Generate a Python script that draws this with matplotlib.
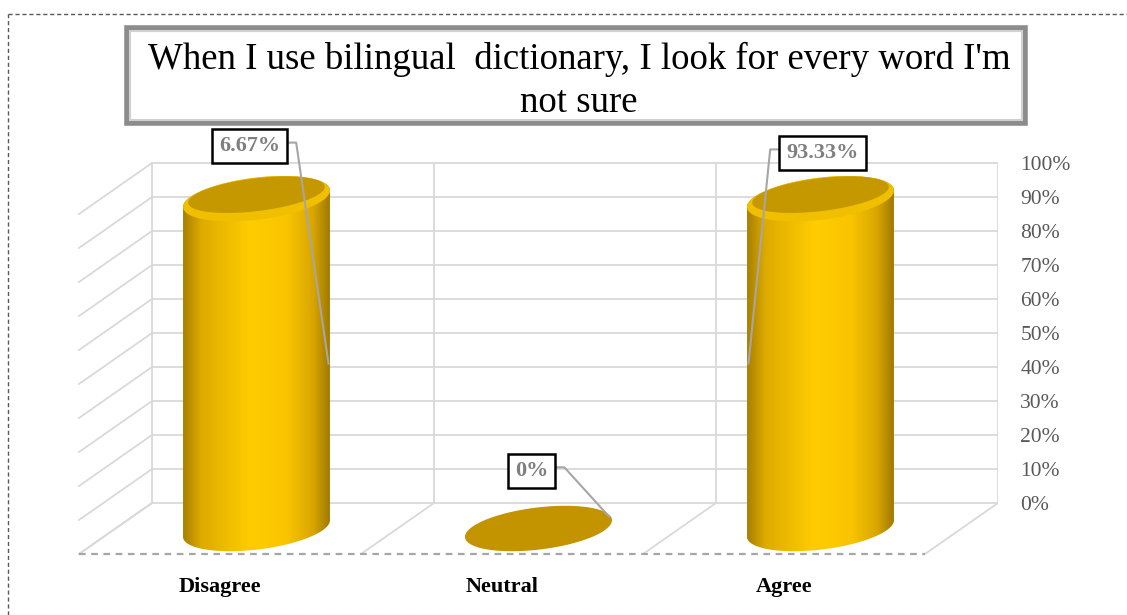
import numpy as np
import matplotlib
matplotlib.use('Agg')
import matplotlib.pyplot as plt
from matplotlib.patches import Polygon, Rectangle
from matplotlib.colors import LinearSegmentedColormap
from matplotlib.lines import Line2D

# data
categories = ["Disagree", "Neutral", "Agree"]
bar_heights = [97, 0, 97]          # drawn height of each cylinder (%)
value_labels = ["6.67%", "0%", "93.33%"]
ticks = list(range(0, 101, 10))
title = "When I use bilingual  dictionary, I look for every word I'm\nnot sure"

plt.rcParams['font.family'] = ['Liberation Serif', 'DejaVu Serif']

W, H = 1127, 615
fig = plt.figure(figsize=(W / 100, H / 100), dpi=100)

# pixels per data unit (category units / percent)
SX, SY = 282.0, 3.4
x0, x1 = -0.45, 3.0
y0, y1 = -30, 140
left_px = 152 + x0 * SX
right_px = 152 + x1 * SX
bot_px = 503 - y0 * SY
top_px = 503 - y1 * SY
ax = fig.add_axes([left_px / W, (H - bot_px) / H, (right_px - left_px) / W, (bot_px - top_px) / H])
ax.set_xlim(x0, x1)
ax.set_ylim(y0, y1)
for s in ax.spines.values():
    s.set_visible(False)
ax.set_xticks([])

# depth offset (front minus back)
DX, DY = -73 / SX, -51 / SY
grid_c = '#D9D9D9'
n = len(categories)

# back wall grid
for t in ticks:
    ax.plot([0, n], [t, t], color=grid_c, lw=1.3, zorder=1)
    ax.plot([0, DX], [t, t + DY], color=grid_c, lw=1.3, zorder=1)
for k in range(n + 1):
    ax.plot([k, k], [0, 100], color=grid_c, lw=1.3, zorder=1)
    ax.plot([k, k + DX], [0, DY], color=grid_c, lw=1.3, zorder=1)
ax.plot([DX, n + DX], [DY, DY], color='#A6A6A6', lw=1.6, ls=(0, (3, 2.5)), zorder=1)

ax.yaxis.tick_right()
ax.set_yticks(ticks)
ax.set_yticklabels([f"{t}%" for t in ticks], fontsize=15.5, color='#595959')
ax.tick_params(axis='y', length=0, pad=16)

# cylinders
A_PX, B_PX, ANG = 74, 21, np.deg2rad(7)


def ell(cx, cy, a, b, t):
    ex, ey = a * np.cos(t), b * np.sin(t)
    rx = ex * np.cos(ANG) - ey * np.sin(ANG)
    ry = ex * np.sin(ANG) + ey * np.cos(ANG)
    return cx + rx / SX, cy + ry / SY


cmap = LinearSegmentedColormap.from_list('gold', [
    (0.0, '#A87F00'), (0.12, '#DDAA00'), (0.45, '#FFCC00'),
    (0.7, '#FAC500'), (0.88, '#D9A600'), (1.0, '#9C7700')])
grad = np.linspace(0, 1, 256).reshape(1, -1)

centers = []
for i, v in enumerate(bar_heights):
    cx = i + 0.5 + DX / 2
    cb = DY / 2
    ct = v + DY / 2
    centers.append((cx, cb, ct))
    if v <= 0:
        ex, ey = ell(cx, cb, A_PX, B_PX, np.linspace(0, 2 * np.pi, 200))
        ax.fill(ex, ey, color='#C39300', zorder=3, lw=0)
        continue
    bx, by = ell(cx, cb, A_PX, B_PX, np.linspace(np.pi, 2 * np.pi, 100))
    tx, ty = ell(cx, ct, A_PX, B_PX, np.linspace(0, np.pi, 100))
    body = Polygon(np.column_stack([np.r_[bx, tx], np.r_[by, ty]]), closed=True,
                   facecolor='none', edgecolor='none', transform=ax.transData)
    ax.add_patch(body)
    im = ax.imshow(grad, extent=[cx - A_PX / SX, cx + A_PX / SX, cb - 10, ct + 10],
                   aspect='auto', cmap=cmap, zorder=3, interpolation='bilinear')
    im.set_clip_path(body)
    ex, ey = ell(cx, ct, A_PX, B_PX, np.linspace(0, 2 * np.pi, 200))
    ax.fill(ex, ey, color='#F0BF00', zorder=4, lw=0)
    ex, ey = ell(cx, ct + 4 / SY, A_PX * 0.93, B_PX * 0.78, np.linspace(0, 2 * np.pi, 200))
    ax.fill(ex, ey, color='#C59800', zorder=4, lw=0)

ax.set_xlim(x0, x1)
ax.set_ylim(y0, y1)

# category labels
for i, c in enumerate(categories):
    ax.text(i + 0.5 + DX, (503 - 587) / SY, c, ha='center', va='center',
            fontsize=16, fontweight='bold', zorder=5)

# value labels with leader lines
label_off = [(-7, 15.5), (-7, 17), (2, 13.5)]     # px, % offsets from bar top centre
leader_side = [1, 1, -1]
texts = []
for i, lab in enumerate(value_labels):
    cx, cb, ct = centers[i]
    lx = cx + label_off[i][0] / SX
    ly = ct + label_off[i][1]
    txt = ax.text(lx, ly, lab, ha='center', va='center', fontsize=16, fontweight='bold',
                  color='#7F7F7F', zorder=7,
                  bbox=dict(boxstyle='square,pad=0.32', fc='white', ec='black', lw=1.8))
    texts.append((txt, lx, ly))

fig.canvas.draw()
rend = fig.canvas.get_renderer()
for i, (txt, lx, ly) in enumerate(texts):
    cx, cb, ct = centers[i]
    bb = txt.get_bbox_patch().get_window_extent(rend).transformed(ax.transData.inverted())
    side = leader_side[i]
    sx = bb.x1 if side > 0 else bb.x0
    sy = ly + 1
    if bar_heights[i] > 0:
        endx = cx + side * (A_PX - 2) / SX
        endy = bar_heights[i] / 2 + DY / 2
    else:
        ex, ey = ell(cx, cb, A_PX - 3, B_PX, np.array([0.0]))
        endx, endy = ex[0], ey[0] + 1
    ax.plot([sx, sx + side * 9 / SX, endx], [sy, sy, endy], color='#A6A6A6', lw=1.5, zorder=6)

# title box
fig.patches.append(Rectangle((127 / W, 1 - 123 / H), 898 / W, 95 / H, transform=fig.transFigure,
                             fc='white', ec='#8C8C8C', lw=4, zorder=0))
fig.patches.append(Rectangle((130 / W, 1 - 120 / H), 892 / W, 89 / H, transform=fig.transFigure,
                             fc='white', ec='#D0D0D0', lw=1.5, zorder=0))
fig.text(579 / W, 1 - 81 / H, title, ha='center', va='center', fontsize=26.5, linespacing=1.3)

# dashed chart-area border
fig.lines.append(Line2D([8 / W, 1], [1 - 14 / H, 1 - 14 / H], transform=fig.transFigure,
                        color='#595959', lw=1, ls=(0, (3, 2))))
fig.lines.append(Line2D([8 / W, 8 / W], [0, 1 - 14 / H], transform=fig.transFigure,
                        color='#595959', lw=1, ls=(0, (3, 2))))

fig.savefig("out.png", dpi=100)
